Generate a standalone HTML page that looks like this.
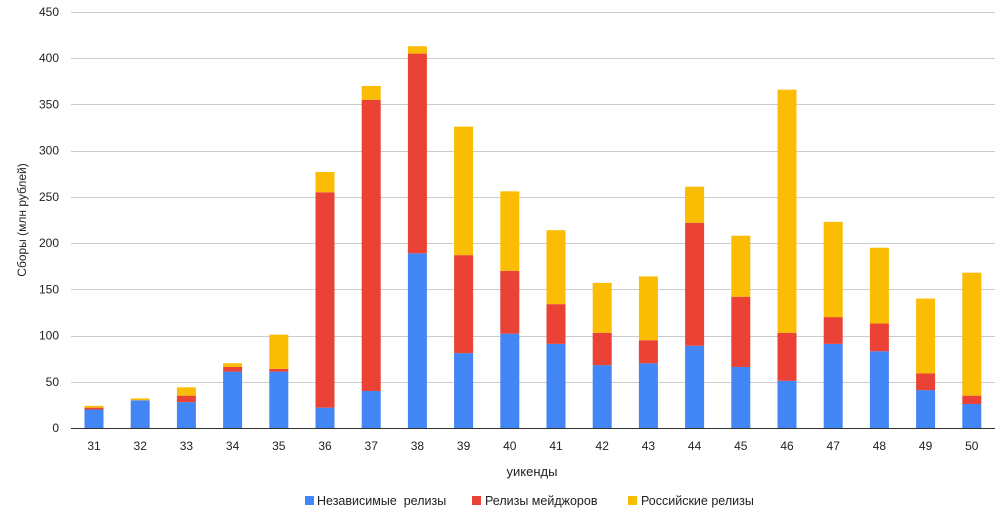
<!DOCTYPE html>
<html><head><meta charset="utf-8"><style>
html,body{margin:0;padding:0;background:#fff;}
svg{display:block;font-family:"Liberation Sans",Arial,sans-serif;}
</style></head><body>
<svg width="1008" height="522" xmlns="http://www.w3.org/2000/svg">
<g id="grid" stroke="#cccccc" stroke-width="1"></g>
<g id="bars"></g>
<g id="labels" font-size="12" fill="#222"></g>
<line x1="71" y1="428.5" x2="995" y2="428.5" stroke="#333" stroke-width="1"/>
<text x="26" y="220" font-size="12" fill="#222" text-anchor="middle" transform="rotate(-90 26 220)">Сборы (млн рублей)</text>
<text x="532" y="476" font-size="13" fill="#222" text-anchor="middle">уикенды</text>
<rect x="305" y="496" width="9" height="9" fill="#4285f4"/>
<text x="317" y="505" font-size="12.5" fill="#222" xml:space="preserve">Независимые  релизы</text>
<rect x="472" y="496" width="9" height="9" fill="#ea4335"/>
<text x="485" y="505" font-size="12.5" fill="#222">Релизы мейджоров</text>
<rect x="628" y="496" width="9" height="9" fill="#fbbc04"/>
<text x="641" y="505" font-size="12.5" fill="#222">Российские релизы</text>
<script>
var ns="http://www.w3.org/2000/svg";
var y0=428,k=416/450;
function Y(v){return y0-v*k;}
var g=document.getElementById('grid'),L=document.getElementById('labels'),B=document.getElementById('bars');
for(var v=0;v<=450;v+=50){
 if(v>0){var l=document.createElementNS(ns,'line');l.setAttribute('x1',71);l.setAttribute('x2',995);l.setAttribute('y1',Math.round(Y(v))+0.5);l.setAttribute('y2',Math.round(Y(v))+0.5);g.appendChild(l);}
 var t=document.createElementNS(ns,'text');t.setAttribute('x',59);t.setAttribute('y',Y(v)+4);t.setAttribute('text-anchor','end');t.textContent=v;L.appendChild(t);
}
var d=[[20,22,24],[30,30,32],[28,35,44],[61,66,70],[61,64,101],[22,255,277],[40,355,370],[189,405,413],[81,187,326],[102,170,256],[91,134,214],[68,103,157],[70,95,164],[89,222,261],[66,142,208],[51,103,366],[91,120,223],[83,113,195],[41,59,140],[26,35,168]];
var cols=['#4285f4','#ea4335','#fbbc04'];
for(var i=0;i<20;i++){
 var cx=94+i*46.2,w=19;
 var prev=0;
 for(var j=0;j<3;j++){
  var r=document.createElementNS(ns,'rect');
  r.setAttribute('x',cx-w/2);r.setAttribute('width',w);
  r.setAttribute('y',Y(d[i][j]));r.setAttribute('height',Math.max(0,(d[i][j]-prev)*k));
  r.setAttribute('fill',cols[j]);B.appendChild(r);prev=d[i][j];
 }
 var t=document.createElementNS(ns,'text');t.setAttribute('x',cx);t.setAttribute('y',450);t.setAttribute('text-anchor','middle');t.textContent=31+i;L.appendChild(t);
}
</script>
</svg>
</body></html>
